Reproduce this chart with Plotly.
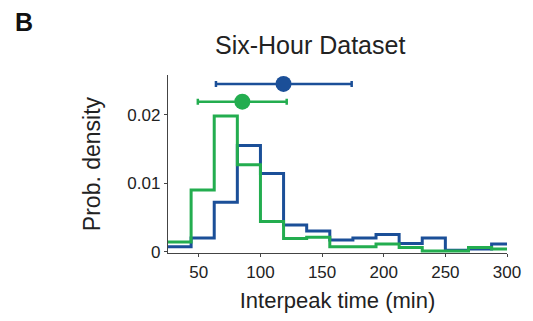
import plotly.graph_objects as go

# ---- data ----
bin_edges = [25, 43.75, 62.5, 81.25, 100, 118.75, 137.5, 156.25, 175, 193.75,
             212.5, 231.25, 250, 268.75, 287.5, 306.25]
blue_density = [0.0007, 0.0020, 0.0072, 0.0155, 0.0114, 0.0039, 0.0030, 0.0017,
                0.0020, 0.0025, 0.0012, 0.0020, 0.0002, 0.0004, 0.0011]
green_density = [0.0014, 0.0090, 0.0198, 0.0127, 0.0044, 0.0019, 0.0021, 0.0007,
                 0.0007, 0.0011, 0.0006, 0.0001, 0.0001, 0.0006, 0.0004]
blue_summary = {"mean": 118.7, "low": 63.9, "high": 174.0, "y": 0.0245}
green_summary = {"mean": 85.3, "low": 49.2, "high": 121.3, "y": 0.0219}

BLUE = "#1b4f98"
GREEN = "#23ad4f"

fig = go.Figure()


def step_trace(vals, color):
    xs = list(bin_edges[:len(vals)]) + [bin_edges[len(vals)]]
    ys = list(vals) + [vals[-1]]
    return go.Scatter(x=xs, y=ys, mode="lines", line=dict(color=color, width=3, shape="hv"),
                      showlegend=False, hoverinfo="skip", cliponaxis=True)


fig.add_trace(step_trace(blue_density, BLUE))
fig.add_trace(step_trace(green_density, GREEN))

for s, c in [(blue_summary, BLUE), (green_summary, GREEN)]:
    fig.add_trace(go.Scatter(
        x=[s["mean"]], y=[s["y"]], mode="markers",
        marker=dict(color=c, size=16),
        error_x=dict(type="data", symmetric=False,
                     array=[s["high"] - s["mean"]], arrayminus=[s["mean"] - s["low"]],
                     color=c, thickness=2.5, width=3),
        showlegend=False, cliponaxis=False))

font = "Liberation Sans, Arial, sans-serif"
fig.update_layout(
    width=533, height=321,
    margin=dict(l=168, r=21, t=75, b=63),
    paper_bgcolor="white", plot_bgcolor="white",
    font=dict(family=font, color="#222"),
    xaxis=dict(range=[25, 300], tickvals=[50, 100, 150, 200, 250, 300],
               showline=True, linecolor="#444", linewidth=1.3, ticks="outside",
               ticklen=3, tickcolor="#444", showgrid=False, zeroline=False,
               tickfont=dict(size=17, family=font, color="#222"),
               title=dict(text="Interpeak time (min)", font=dict(size=22, family=font, color="#222"),
                          standoff=12)),
    yaxis=dict(range=[-0.0002, 0.0258], tickvals=[0, 0.01, 0.02], ticktext=["0", "0.01", "0.02"],
               showline=True, linecolor="#444", linewidth=1.3, ticks="outside",
               ticklen=3, tickcolor="#444", showgrid=False, zeroline=False,
               tickfont=dict(size=17, family=font, color="#222"),
               title=dict(text="Prob. density", font=dict(size=23, family=font, color="#222"),
                          standoff=20)),
    annotations=[
        dict(text="Six-Hour Dataset", x=312, y=44, xref="paper", yref="paper",
             showarrow=False, font=dict(size=25, family=font, color="#222")),
        dict(text="<b>B</b>", x=22, y=21, showarrow=False, font=dict(size=25, family=font, color="#111")),
    ],
)
# convert annotation pixel coords to paper coords
pw = 533 - 168 - 21
ph = 321 - 75 - 63
for a in fig.layout.annotations:
    a.x = (a.x - 168) / pw
    a.y = (321 - 63 - a.y) / ph
    a.xref = "paper"
    a.yref = "paper"
    a.xanchor = "center"
    a.yanchor = "middle"
fig.write_html("out.html")
